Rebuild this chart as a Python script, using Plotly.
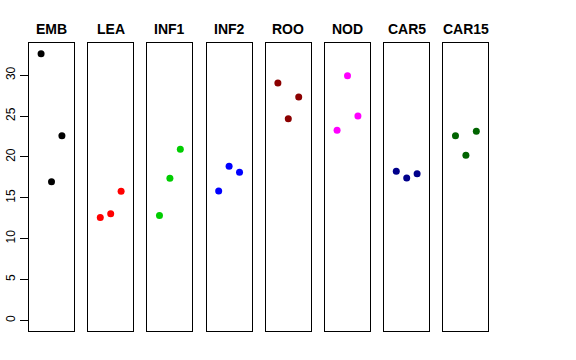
import plotly.graph_objects as go

panels = ["EMB", "LEA", "INF1", "INF2", "ROO", "NOD", "CAR5", "CAR15"]
colors = ["#000000", "#FF0000", "#00CD00", "#0000FF", "#8B0000", "#FF00FF", "#00008B", "#006400"]
x_pos = [1, 2, 3]
values = {
    "EMB": [32.64, 16.96, 22.60],
    "LEA": [12.60, 13.04, 15.80],
    "INF1": [12.84, 17.40, 20.95],
    "INF2": [15.83, 18.87, 18.14],
    "ROO": [29.06, 24.66, 27.35],
    "NOD": [23.27, 29.95, 25.02],
    "CAR5": [18.26, 17.41, 17.93],
    "CAR15": [22.58, 20.22, 23.15],
}
y_ticks = [0, 5, 10, 15, 20, 25, 30]

W, H = 576, 360
fig = go.Figure()
font = "Liberation Sans, Arial, Helvetica, sans-serif"

ymax = max(max(v) for v in values.values())
ymin = 0
ext = 0.04 * (ymax - ymin)
yrange = [ymin - ext, ymax + ext]
xrange = [0 - 0.16, 4 + 0.16]

left0 = 29.0
step = 59.2
pw = 45.0
top_px, bot_px = 43.0, 331.0

layout = dict(
    width=W, height=H, margin=dict(l=0, r=0, t=0, b=0, autoexpand=False),
    paper_bgcolor="white", plot_bgcolor="white", showlegend=False,
    font=dict(family=font, color="black"),
)
annotations = []
for i, name in enumerate(panels):
    k = "" if i == 0 else str(i + 1)
    l = left0 + step * i
    fig.add_trace(go.Scatter(
        x=x_pos, y=values[name], mode="markers",
        marker=dict(color=colors[i], size=7, line=dict(width=0)),
        xaxis="x" + k, yaxis="y" + k, hoverinfo="skip",
    ))
    layout["xaxis" + k] = dict(
        domain=[l / W, (l + pw) / W], range=xrange, anchor="y" + k,
        showticklabels=False, ticks="", showgrid=False, zeroline=False,
        showline=True, mirror=True, linecolor="black", linewidth=1,
    )
    ya = dict(
        domain=[(H - bot_px) / H, (H - top_px) / H], range=yrange, anchor="x" + k,
        showgrid=False, zeroline=False,
        showline=True, mirror=True, linecolor="black", linewidth=1,
    )
    if i == 0:
        ya.update(tickvals=y_ticks, ticktext=[str(t) for t in y_ticks], ticks="outside",
                  ticklen=8, tickcolor="black", tickwidth=1, tickangle=-90,
                  tickfont=dict(family=font, size=12, color="black"), showticklabels=True)
    else:
        ya.update(showticklabels=False, ticks="")
    layout["yaxis" + k] = ya
    annotations.append(dict(
        text="<b>%s</b>" % name, x=(l + pw / 2) / W, y=(H - 29) / H,
        xref="paper", yref="paper", xanchor="center", yanchor="middle",
        showarrow=False, font=dict(family=font, size=14, color="black"),
    ))
layout["annotations"] = annotations
fig.update_layout(**layout)
fig.write_html("out.html", config={"displayModeBar": False, "staticPlot": True},
               post_script="document.body.style.margin='0';document.body.style.padding='0';")
